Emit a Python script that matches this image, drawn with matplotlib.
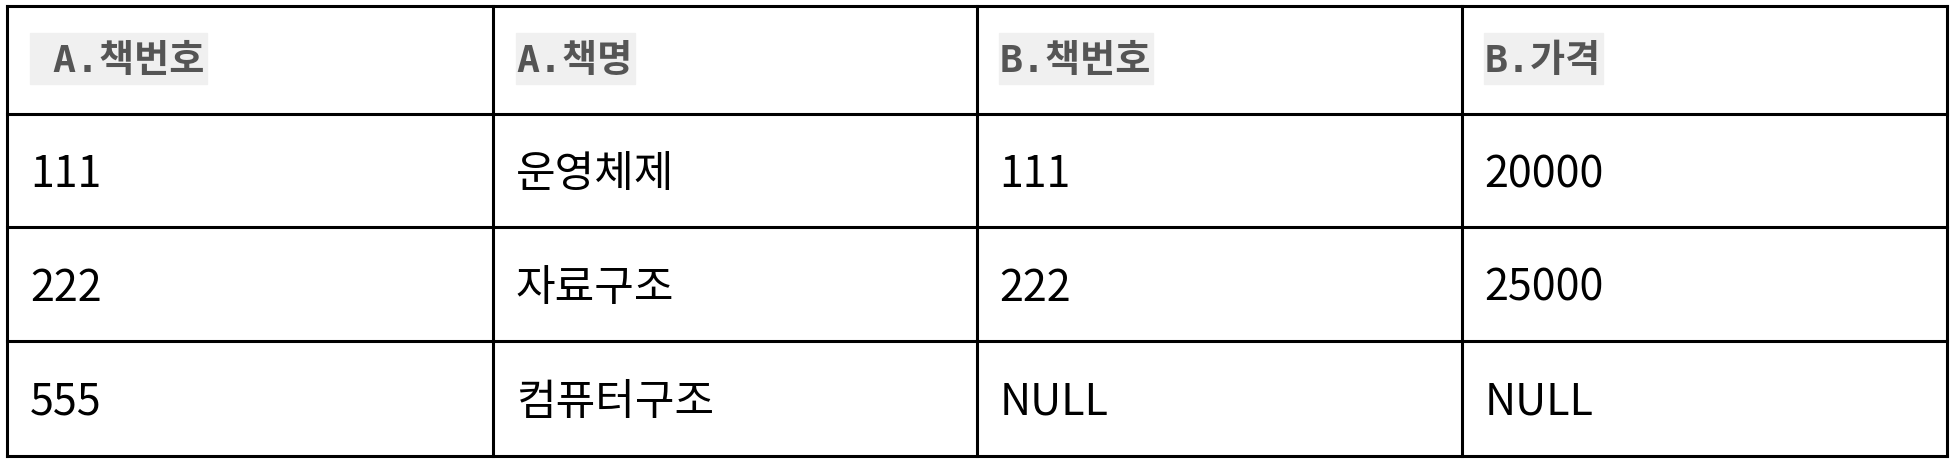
import matplotlib.pyplot as plt
from matplotlib.patches import Rectangle

headers = [" A.책번호", "A.책명", "B.책번호", "B.가격"]
book_no_a = ["111", "222", "555"]
book_name = ["운영체제", "자료구조", "컴퓨터구조"]
book_no_b = ["111", "222", "NULL"]
price_b = ["20000", "25000", "NULL"]

W, H = 1568.0, 372.0  # layout measured in reference units
col_x = [6, 396, 784, 1173, 1562]
row_y = [6, 92, 183, 274, 366]

fig = plt.figure(figsize=(19.54, 4.64), dpi=100)
ax = fig.add_axes([0, 0, 1, 1])
ax.set_xlim(0, W)
ax.set_ylim(H, 0)
ax.axis('off')

for x in col_x:
    ax.plot([x, x], [row_y[0], row_y[-1]], color='black', lw=2.2)
for y in row_y:
    ax.plot([col_x[0], col_x[-1]], [y, y], color='black', lw=2.2)

r = fig.canvas.get_renderer()
hfont = dict(family=['DejaVu Sans Mono', 'Noto Sans CJK KR'], fontsize=27.5,
             color='#555555', fontweight='bold')
for i, h in enumerate(headers):
    x0 = col_x[i] + 18
    t = ax.text(x0, (row_y[0] + row_y[1]) / 2 + 1, h, va='center', ha='left', **hfont)
    bb = t.get_window_extent(r).transformed(ax.transData.inverted())
    ax.add_patch(Rectangle((x0, 27), bb.x1 - x0 + 2, 41, color='#f0f0f0', zorder=0))

rows = list(zip(book_no_a, book_name, book_no_b, price_b))
for j, row in enumerate(rows):
    yc = (row_y[j + 1] + row_y[j + 2]) / 2 + 3
    for i, val in enumerate(row):
        ax.text(col_x[i] + 18, yc, val, va='center', ha='left',
                family=['Noto Sans CJK KR', 'DejaVu Sans'], fontsize=31, color='black')

fig.savefig('out.png', dpi=100, facecolor='white')
